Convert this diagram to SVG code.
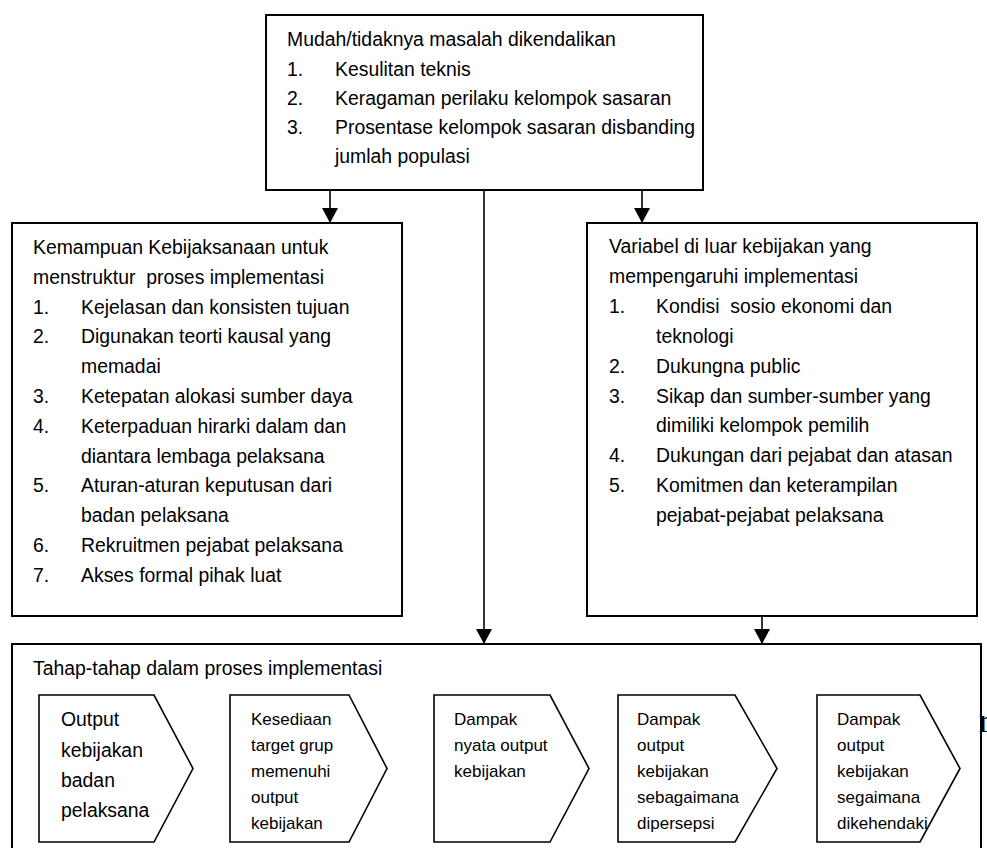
<svg xmlns="http://www.w3.org/2000/svg" width="987" height="848" viewBox="0 0 987 848">
<style>
.box{fill:#fff;stroke:#000;stroke-width:2}
.chev{fill:#fff;stroke:#000;stroke-width:1.6}
.t{font-family:"Liberation Sans",Arial,sans-serif;font-size:19.4px;fill:#000}
.s{font-family:"Liberation Sans",Arial,sans-serif;font-size:17px;fill:#000}
.ln{stroke:#000;stroke-width:1.6;fill:none}
</style>
<defs>
<marker id="ah" markerUnits="userSpaceOnUse" markerWidth="16" markerHeight="16" refX="15" refY="8" orient="auto">
<path d="M0,0 L15,8 L0,16 Z" fill="#000"/>
</marker>
</defs>
<rect width="987" height="848" fill="#fff"/>

<g id="connectors">
<line class="ln" x1="330" y1="190" x2="330" y2="223" marker-end="url(#ah)"/>
<line class="ln" x1="484" y1="190" x2="484" y2="644" marker-end="url(#ah)"/>
<line class="ln" x1="642" y1="190" x2="642" y2="223" marker-end="url(#ah)"/>
<line class="ln" x1="762" y1="616" x2="762" y2="644" marker-end="url(#ah)"/>
</g>

<g id="node-top">
<rect class="box" x="266" y="15" width="437" height="175"/>
<text class="t" x="287" y="46">Mudah/tidaknya masalah dikendalikan</text>
<text class="t" x="287" y="76">1.</text><text class="t" x="335" y="76">Kesulitan teknis</text>
<text class="t" x="287" y="105">2.</text><text class="t" x="335" y="105">Keragaman perilaku kelompok sasaran</text>
<text class="t" x="287" y="134">3.</text><text class="t" x="335" y="134">Prosentase kelompok sasaran disbanding</text>
<text class="t" x="335" y="163">jumlah populasi</text>
</g>

<g id="node-left">
<rect class="box" x="12" y="223" width="390" height="393"/>
<text class="t" x="33" y="254">Kemampuan Kebijaksanaan untuk</text>
<text class="t" x="33" y="283.8" xml:space="preserve">menstruktur  proses implementasi</text>
<text class="t" x="33" y="313.6">1.</text><text class="t" x="81" y="313.6">Kejelasan dan konsisten tujuan</text>
<text class="t" x="33" y="343.4">2.</text><text class="t" x="81" y="343.4">Digunakan teorti kausal yang</text>
<text class="t" x="81" y="373.2">memadai</text>
<text class="t" x="33" y="403">3.</text><text class="t" x="81" y="403">Ketepatan alokasi sumber daya</text>
<text class="t" x="33" y="432.8">4.</text><text class="t" x="81" y="432.8">Keterpaduan hirarki dalam dan</text>
<text class="t" x="81" y="462.6">diantara lembaga pelaksana</text>
<text class="t" x="33" y="492.4">5.</text><text class="t" x="81" y="492.4">Aturan-aturan keputusan dari</text>
<text class="t" x="81" y="522.2">badan pelaksana</text>
<text class="t" x="33" y="552">6.</text><text class="t" x="81" y="552">Rekruitmen pejabat pelaksana</text>
<text class="t" x="33" y="581.8">7.</text><text class="t" x="81" y="581.8">Akses formal pihak luat</text>
</g>

<g id="node-right">
<rect class="box" x="587" y="223" width="390" height="393"/>
<text class="t" x="609" y="253">Variabel di luar kebijakan yang</text>
<text class="t" x="609" y="282.9">mempengaruhi implementasi</text>
<text class="t" x="609" y="312.8">1.</text><text class="t" x="656" y="312.8" xml:space="preserve">Kondisi  sosio ekonomi dan</text>
<text class="t" x="656" y="342.7">teknologi</text>
<text class="t" x="609" y="372.6">2.</text><text class="t" x="656" y="372.6">Dukungna public</text>
<text class="t" x="609" y="402.5">3.</text><text class="t" x="656" y="402.5">Sikap dan sumber-sumber yang</text>
<text class="t" x="656" y="432.4">dimiliki kelompok pemilih</text>
<text class="t" x="609" y="462.3">4.</text><text class="t" x="656" y="462.3">Dukungan dari pejabat dan atasan</text>
<text class="t" x="609" y="492.2">5.</text><text class="t" x="656" y="492.2">Komitmen dan keterampilan</text>
<text class="t" x="656" y="522.1">pejabat-pejabat pelaksana</text>
</g>

<g id="node-bottom">
<rect class="box" x="12" y="644" width="969" height="212"/>
<text class="t" x="33" y="675">Tahap-tahap dalam proses implementasi</text>
</g>

<g id="stage-1">
<path class="chev" d="M39,695 L154,695 L193,768.5 L154,842 L39,842 Z"/>
<text class="t" x="61" y="726">Output</text>
<text class="t" x="61" y="757">kebijakan</text>
<text class="t" x="61" y="787">badan</text>
<text class="t" x="61" y="817">pelaksana</text>
</g>

<g id="stage-2">
<path class="chev" d="M230,695 L349,695 L387,768.5 L349,842 L230,842 Z"/>
<text class="s" x="251" y="725">Kesediaan</text>
<text class="s" x="251" y="751">target grup</text>
<text class="s" x="251" y="777">memenuhi</text>
<text class="s" x="251" y="803">output</text>
<text class="s" x="251" y="829">kebijakan</text>
</g>

<g id="stage-3">
<path class="chev" d="M434,695 L550,695 L589,768.5 L550,842 L434,842 Z"/>
<text class="s" x="454" y="725">Dampak</text>
<text class="s" x="454" y="751">nyata output</text>
<text class="s" x="454" y="777">kebijakan</text>
</g>

<g id="stage-4">
<path class="chev" d="M618,695 L735,695 L777,768.5 L735,842 L618,842 Z"/>
<text class="s" x="637" y="725">Dampak</text>
<text class="s" x="637" y="751">output</text>
<text class="s" x="637" y="777">kebijakan</text>
<text class="s" x="637" y="803">sebagaimana</text>
<text class="s" x="637" y="829">dipersepsi</text>
</g>

<g id="stage-5">
<path class="chev" d="M817,695 L920,695 L960,768.5 L920,842 L817,842 Z"/>
<text class="s" x="837" y="725">Dampak</text>
<text class="s" x="837" y="751">output</text>
<text class="s" x="837" y="777">kebijakan</text>
<text class="s" x="837" y="803">segaimana</text>
<text class="s" x="837" y="829">dikehendaki</text>
</g>

<text x="979" y="732" font-family="'Liberation Serif',serif" font-size="34">r</text>
</svg>
